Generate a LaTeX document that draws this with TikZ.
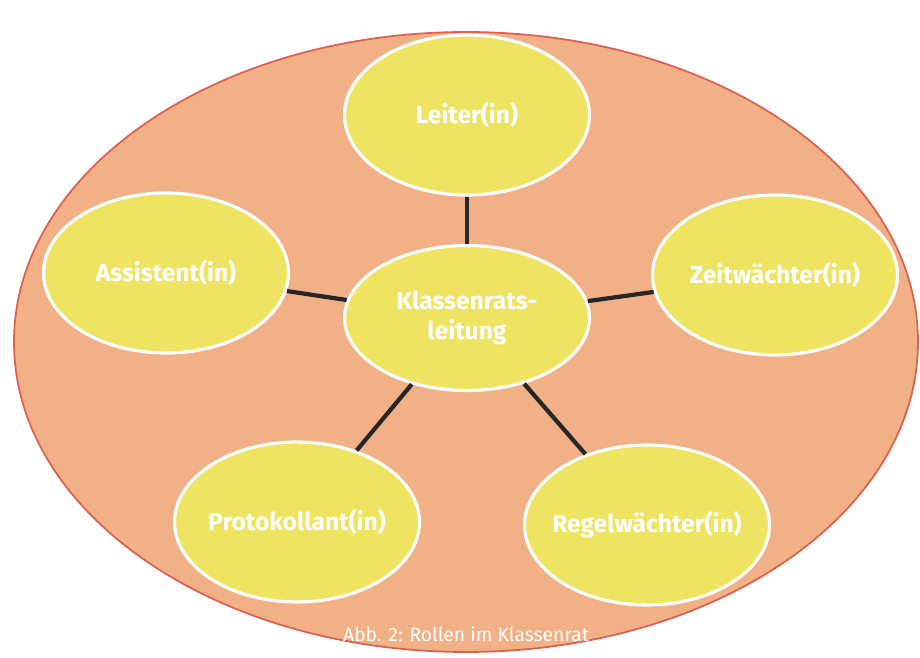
\documentclass[tikz,border=0pt]{standalone}
\usepackage{fontspec}
\setsansfont{Fira Sans}
\usepackage{tikz}
\usetikzlibrary{shapes.geometric}
\definecolor{peach}{RGB}{241,176,134}
\definecolor{rimred}{RGB}{222,96,80}
\definecolor{roleyellow}{RGB}{238,228,98}
\tikzset{
    rolle/.style={ellipse, draw=white, line width=1.8pt, fill=roleyellow, inner xsep=-8pt, minimum width=4.9cm, minimum height=3.2cm, align=center, text=white, font=\sffamily\bfseries\fontsize{14}{17}\selectfont},
    link/.style={line width=2.4pt, draw=black!85}
}
\begin{document}
\begin{tikzpicture}[x=0.02cm, y=-0.02cm]
        \useasboundingbox (0,0) rectangle (920,658);
        \draw[fill=peach, draw=rimred, line width=1pt] (466,342) ellipse[x radius=452, y radius=310];

        \node[rolle, minimum width=4.9cm, minimum height=2.9cm] (kr) at (467,318) {Klassenrats-\\leitung};
        \node[rolle] (leiter) at (467,115) {Leiter(in)};
        \node[rolle] (assist) at (166,273) {Assistent(in)};
        \node[rolle] (zeit) at (775,275) {Zeitwächter(in)};
        \node[rolle] (proto) at (297,522) {Protokollant(in)};
        \node[rolle] (regel) at (647,525) {Regelwächter(in)};

        \draw[link] (kr) -- (leiter);
        \draw[link] (kr) -- (assist);
        \draw[link] (kr) -- (zeit);
        \draw[link] (kr) -- (proto);
        \draw[link] (kr) -- (regel);

        \node[text=white, font=\sffamily\fontsize{11}{13}\selectfont] (cap) at (466,634) {Abb. 2: Rollen im Klassenrat};
    \end{tikzpicture}
\end{document}
